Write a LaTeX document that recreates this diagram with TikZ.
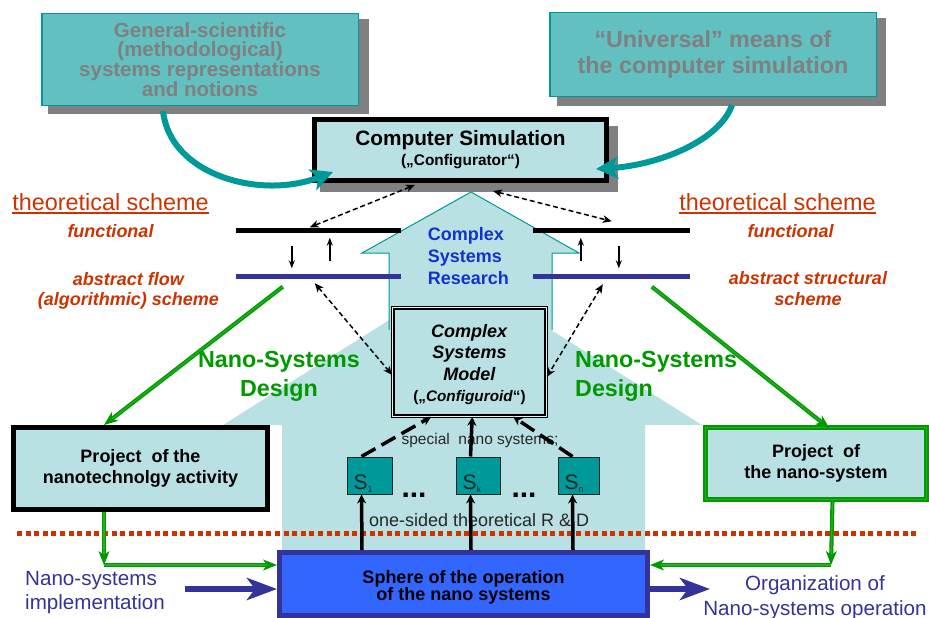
\documentclass[tikz,border=0pt]{standalone}
\usepackage{fontspec}
\setmainfont{Liberation Sans}
\usetikzlibrary{arrows.meta,calc}
\definecolor{lblue}{HTML}{B9E1E4}
\definecolor{tealc}{HTML}{009999}
\definecolor{hatchc}{HTML}{62C0C0}
\definecolor{shgray}{HTML}{808080}
\definecolor{rred}{HTML}{CC3300}
\definecolor{navyc}{HTML}{333399}
\definecolor{bboxc}{HTML}{3366FF}
\definecolor{ggreen}{HTML}{009900}
\definecolor{lgreen}{HTML}{22B022}
\definecolor{rblue}{HTML}{1133CC}
\definecolor{dtext}{HTML}{262626}
\newcommand\myfs[2]{\fontsize{#1pt}{#2pt}\selectfont\lineskiplimit=-100pt\lineskip=0pt}
\begin{document}
\begin{tikzpicture}[x=1pt,y=-1pt,
  every node/.style={inner sep=0pt},
  topbox/.style={draw=tealc,line width=1.5pt,fill=hatchc,text=shgray,align=center},
  thickbox/.style={draw=black,line width=5pt,fill=lblue,align=center},
  sbox/.style={draw=dtext,line width=1pt,fill=tealc,minimum height=37pt},
  stext/.style={anchor=base west,text=dtext,font=\myfs{21}{21}},
  tarrow/.style={line width=1.5pt,-{Stealth[length=8pt,width=6pt]}},
  dblarrow/.style={line width=1.5pt,dash pattern=on 5pt off 3pt,{Stealth[length=9pt,width=7.5pt,inset=2.5pt]}-{Stealth[length=9pt,width=7.5pt,inset=2.5pt]}},
  grarrow/.style={draw=ggreen,line width=1.4pt,double=lgreen,double distance=1.3pt,-{Stealth[length=14pt,width=11pt,inset=4pt]}},
  tlarrow/.style={draw=tealc,line width=6pt,-{Stealth[length=22pt,width=22pt,inset=6pt]}},
  blarrow/.style={draw=navyc,line width=6pt,-{Stealth[length=30pt,width=22pt,inset=8pt]}},
  sarrow/.style={line width=3.5pt,-{Stealth[length=9pt,width=9pt]}},
  redtxt/.style={text=rred,font=\myfs{18}{20.5}\bfseries\itshape,align=center}
]
\useasboundingbox (0,0) rectangle (929,618);
% big background arrow
\fill[lblue] (282,550) -- (282,425) -- (223,425) -- (462,274) -- (702,425) -- (645,425) -- (645,550) -- cycle;
% small arrow
\fill[lblue] (389,330) -- (389,253) -- (362,253) -- (471,192) -- (579,253) -- (552,253) -- (552,330) -- cycle;
\draw[tealc,line width=1pt] (389,330) -- (389,253) -- (362,253) -- (471,192) -- (579,253) -- (552,253) -- (552,330);
% shadows
\fill[shgray] (48,19) rectangle (369,114);
\fill[shgray] (557,18) rectangle (886,106);
\fill[shgray] (320,126) rectangle (618,192);
% top boxes
\node[topbox,minimum width=316.5pt,minimum height=91.5pt,font=\myfs{20.5}{19.7}\bfseries] (gen) at (200,59.5)
  {General-scientific\\(methodological)\\systems representations\\and notions};
\node[topbox,minimum width=326.5pt,minimum height=83.5pt,font=\myfs{23.3}{26.6}\bfseries] (univ) at (713,54.5)
  {“Universal” means of\\the computer simulation};
\node[thickbox,minimum width=292pt,minimum height=61pt,font=\bfseries\myfs{15.4}{20}] (compsim) at (460.5,150)
  {{\myfs{20.8}{20}Computer Simulation}\\(„Configurator“)};
% teal curved arrows
\coordinate (tlA) at (163,111);
\coordinate (tlB) at (333,172);
\coordinate (trA) at (732,105);
\coordinate (trB) at (596,169);
\draw[tlarrow] (tlA) .. controls (170,175) and (260,200) .. (tlB);
\draw[tlarrow] (trA) .. controls (720,140) and (660,165) .. (trB);
% theoretical scheme texts
\node[anchor=base,text=rred,font=\myfs{23.4}{26}] (tsL) at (110.5,210) {theoretical scheme};
\draw[rred,line width=1.5pt] ([yshift=-3pt]tsL.base west) -- ([yshift=-3pt]tsL.base east);
\node[anchor=base,text=rred,font=\myfs{23.4}{26}] (tsR) at (777.5,210) {theoretical scheme};
\draw[rred,line width=1.5pt] ([yshift=-3pt]tsR.base west) -- ([yshift=-3pt]tsR.base east);
\node[redtxt,anchor=base] (fnL) at (110.5,237) {functional};
\node[redtxt,anchor=base] (fnR) at (790.5,237) {functional};
\node[redtxt] (afL) at (128.3,290.6) {abstract flow\\(algorithmic) scheme};
\node[redtxt] (asR) at (808,288.5) {abstract structural\\scheme};
% bars
\node[fill=black,minimum width=165pt,minimum height=5pt] (barL1) at (318.5,230) {};
\node[fill=navyc,minimum width=165pt,minimum height=5pt] (barL2) at (318.5,276) {};
\node[fill=black,minimum width=157pt,minimum height=5pt] (barR1) at (611.5,230) {};
\node[fill=navyc,minimum width=157pt,minimum height=5pt] (barR2) at (611.5,276) {};
% small arrows between bars
\draw[tarrow] ($(barL1.south west)+(56,13)$) -- ($(barL2.north west)+(56,-5)$);
\draw[tarrow] ($(barL2.north west)+(94,-12)$) -- ($(barL1.south west)+(94,5)$);
\draw[tarrow] ($(barR2.north west)+(48,-12)$) -- ($(barR1.south west)+(48,5)$);
\draw[tarrow] ($(barR1.south west)+(86,13)$) -- ($(barR2.north west)+(86,-5)$);
% complex systems research
\node[anchor=west,text=rblue,align=left,font=\myfs{18}{21.7}\bfseries] (csr) at (427.7,256.2) {Complex\\Systems\\Research};
% complex systems model
\node[draw=black,line width=1.2pt,double=lblue!40!white,double distance=1.2pt,fill=lblue,
  minimum width=153.4pt,minimum height=108.4pt,align=center,font=\myfs{18}{21.4}\bfseries] (csm) at (469.5,362)
  {\rule{0pt}{18pt}\textit{Complex}\\\textit{Systems}\\\textit{Model}\\{\myfs{15.3}{21.4}(„\textit{Configuroid}“)}};
% dashed arrows
\draw[dblarrow] ($(compsim.south)+(-45.5,2)$) -- ($(barL1.north west)+(74,0)$);
\draw[dblarrow] ($(compsim.south)+(32.5,8)$) -- ($(barR1.north west)+(79,-6)$);
\draw[dblarrow] ($(barL2.south west)+(79,4.5)$) -- ($(csm.west)+(0,13)$);
\draw[dblarrow] ($(barR2.south west)+(70,5.5)$) -- ($(csm.east)+(0,15)$);
% Nano-Systems Design
\node[text=ggreen,align=center,font=\myfs{23.3}{28.4}\bfseries] (nsdL) at (279,376.5) {Nano-Systems\\Design};
\node[anchor=west,text=ggreen,align=left,font=\myfs{23.3}{28.4}\bfseries] (nsdR) at (575,376.5) {Nano-Systems\\Design};
% project boxes
\node[thickbox,minimum width=254pt,minimum height=82pt,font=\myfs{18}{21}\bfseries] (projL) at (140.5,468.5)
  {Project\ \ of the\\nanotechnolgy activity};
\node[draw=ggreen,line width=1.8pt,double=lgreen,double distance=1.2pt,fill=lblue,align=center,
  minimum width=221.2pt,minimum height=72.2pt,font=\myfs{18}{21}\bfseries] (projR) at (816,463.5)
  {Project\ \ of\\the nano-system};
% green diagonal arrows
\draw[grarrow] ($(barL2.south west)+(47,8)$) -- ($(projL.north west)+(93,0)$);
\draw[grarrow] ($(barR2.south west)+(119,8)$) -- ($(projR.north west)+(125,2)$);
% S boxes
\node[text=dtext,anchor=base,font=\myfs{15.5}{16}] (spec) at (480,444.3) {special\ \ nano systems;};
\node[anchor=base,text=dtext,font=\myfs{18}{20}] (osd) at (479.2,526.7) {one-sided theoretical R \& D};
\node[sbox,minimum width=45pt] (s1) at (369.5,475.5) {};
\node[sbox,minimum width=44pt] (sk) at (478,475.5) {};
\node[sbox,minimum width=41pt] (sn) at (578.5,475.5) {};
\node[stext] (s1t) at ($(s1.south west)+(7,-4.7)$) {S\raisebox{-3pt}{\myfs{9}{9}\color{tealc!30!black}1}};
\node[stext] (skt) at ($(sk.south west)+(7,-4.7)$) {S\raisebox{-3pt}{\myfs{9}{9}\color{tealc!30!black}k}};
\node[stext] (snt) at ($(sn.south west)+(7,-4.7)$) {S\raisebox{-3pt}{\myfs{9}{9}\color{tealc!30!black}n}};
\node[anchor=base,font=\myfs{30}{30}\bfseries] (dots1) at (414,497.5) {...};
\node[anchor=base,font=\myfs{30}{30}\bfseries] (dots2) at (524,497.5) {...};
% red dotted line
\draw[rred,line width=5pt,dash pattern=on 5pt off 3.6pt] (17,533) -- (919,533);
% sphere
\node[draw=navyc,line width=5pt,fill=bboxc,minimum width=368pt,minimum height=63pt,align=center,
  font=\myfs{18}{17}\bfseries] (sphere) at (463.5,584)
  {\rule{0pt}{20pt}Sphere of the operation\\of the nano systems};
% S arrows
\draw[sarrow,dash pattern=on 16pt off 7pt] ($(s1.north west)+(15,0)$) -- ($(csm.south west)+(39,0)$);
\draw[sarrow] ($(sk.north west)+(15,0)$) -- ($(csm.south west)+(80,0)$);
\draw[sarrow,dash pattern=on 16pt off 7pt] ($(sn.north west)+(15,0)$) -- ($(csm.south west)+(121,0)$);
\draw[sarrow] ($(sphere.north west)+(85,0)$) -- ($(s1.south west)+(15,0)$);
\draw[sarrow] ($(sphere.north west)+(194,0)$) -- ($(sk.south west)+(15,0)$);
\draw[sarrow] ($(sphere.north west)+(296,0)$) -- ($(sn.south west)+(15,0)$);
% green connectors to sphere
\coordinate (cGL) at (104,565);
\coordinate (cGR) at (831,565);
\draw[grarrow] ($(projL.south west)+(93,0)$) -- (cGL);
\draw[grarrow] (cGL) -- (sphere.west |- cGL);
\draw[grarrow] ($(projR.south west)+(128,0)$) -- (cGR);
\draw[grarrow] (cGR) -- (sphere.east |- cGR);
% blue arrows and texts
\coordinate (cBL) at (185,589);
\coordinate (cBR) at (710,589);
\draw[blarrow] (cBL) -- (sphere.west |- cBL);
\draw[blarrow] (sphere.east |- cBR) -- (cBR);
\node[anchor=west,text=navyc,align=left,font=\myfs{20.6}{24}] (impl) at (25,592.6) {Nano-systems\\implementation};
\node[text=navyc,align=center,font=\myfs{20.6}{25}] (org) at (815,597.2) {Organization of\\Nano-systems operation};
\end{tikzpicture}
\end{document}
